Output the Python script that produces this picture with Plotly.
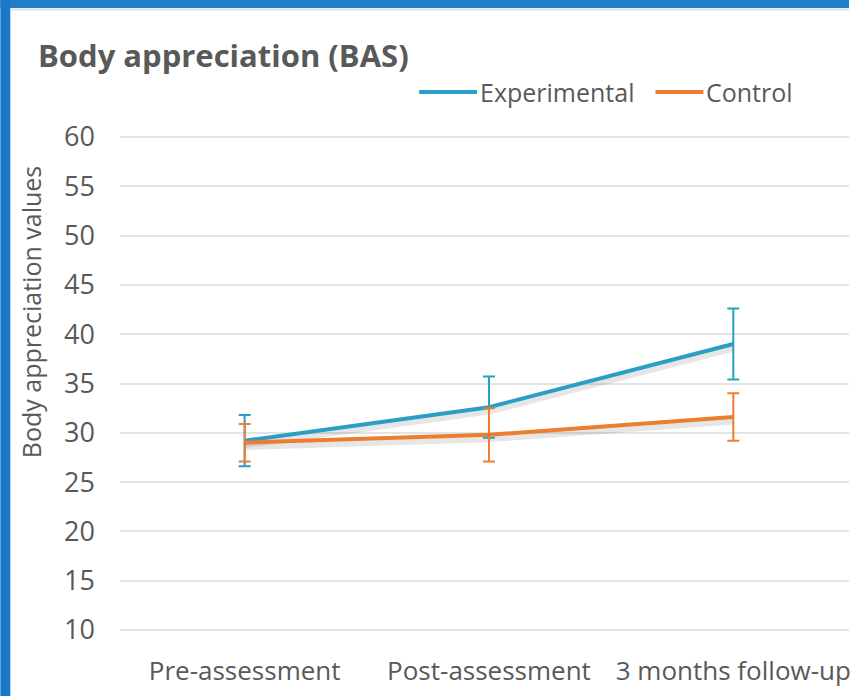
import plotly.graph_objects as go

# Time points and group means with their error margins
timepoints = ["Pre-assessment", "Post-assessment", "3 months follow-up"]
exp_mean = [29.2, 32.6, 39.0]
exp_err = [2.6, 3.1, 3.6]
ctrl_mean = [29.0, 29.8, 31.6]
ctrl_err = [1.9, 2.7, 2.4]
y_ticks = [10, 15, 20, 25, 30, 35, 40, 45, 50, 55, 60]
series_names = ["Experimental", "Control"]

BLUE = "#2A9FC4"
ORANGE = "#ED7D31"
TEXT = "#595959"
FONT = "Open Sans"

W, H = 851, 696
L, R, T, B = 120, 0, 117, 46
PW, PH = W - L - R, H - T - B


def px_x(px):
    return (px - L) / PW


def px_y(py):
    return (H - B - py) / PH


fig = go.Figure()

# soft drop shadows under the two lines
for mean in (exp_mean, ctrl_mean):
    fig.add_trace(go.Scatter(
        x=timepoints, y=[v - 0.4 for v in mean], mode="lines",
        line=dict(color="rgba(60,60,60,0.13)", width=7),
        showlegend=False, hoverinfo="skip",
    ))

fig.add_trace(go.Scatter(
    x=timepoints, y=exp_mean, mode="lines", name=series_names[0],
    line=dict(color=BLUE, width=4), showlegend=False,
    error_y=dict(type="data", array=exp_err, color=BLUE, thickness=2, width=6),
))
fig.add_trace(go.Scatter(
    x=timepoints, y=ctrl_mean, mode="lines", name=series_names[1],
    line=dict(color=ORANGE, width=4), showlegend=False,
    error_y=dict(type="data", array=ctrl_err, color=ORANGE, thickness=2, width=6),
))

# legend drawn as line samples followed by their labels
legend_items = [(series_names[0], BLUE, 420, 478), (series_names[1], ORANGE, 657, 705)]
legend_y = 92
shapes = []
annotations = []
for name, color, x0, x1 in legend_items:
    shapes.append(dict(type="line", xref="paper", yref="paper",
                       x0=px_x(x0), x1=px_x(x1), y0=px_y(legend_y), y1=px_y(legend_y),
                       line=dict(color=color, width=4)))
    annotations.append(dict(text=name, xref="paper", yref="paper",
                            x=px_x(x1 + 1), y=px_y(legend_y), xanchor="left",
                            yanchor="middle", showarrow=False,
                            font=dict(size=25, color=TEXT, family=FONT)))

annotations += [
    dict(text="<b>Body appreciation (BAS)</b>", xref="paper", yref="paper",
         x=px_x(36), y=px_y(55), xanchor="left", yanchor="middle",
         showarrow=False, font=dict(size=31, color=TEXT, family=FONT)),
    dict(text="Body appreciation values", xref="paper", yref="paper",
         x=px_x(31), y=px_y(312), xanchor="center", yanchor="middle",
         textangle=-90, showarrow=False,
         font=dict(size=25, color=TEXT, family=FONT)),
]

shapes += [
    dict(type="rect", xref="paper", yref="paper", x0=px_x(0), x1=px_x(W),
         y0=px_y(0), y1=px_y(8), fillcolor="#1F7FCB", line_width=0, layer="above"),
    dict(type="rect", xref="paper", yref="paper", x0=px_x(0), x1=px_x(10),
         y0=px_y(0), y1=px_y(H), fillcolor="#1A79C6", line_width=0, layer="above"),
    dict(type="line", xref="paper", yref="paper", x0=px_x(10), x1=px_x(W),
         y0=px_y(9.5), y1=px_y(9.5), line=dict(color="#E2E2E2", width=2)),
]

fig.update_layout(
    width=W, height=H,
    margin=dict(l=L, r=R, t=T, b=B),
    paper_bgcolor="white", plot_bgcolor="white",
    font=dict(family=FONT, color=TEXT),
    showlegend=False,
    xaxis=dict(
        range=[-0.5102, 2.4735], showgrid=False, zeroline=False, showline=False,
        tickfont=dict(size=26, color=TEXT, family=FONT), ticks="",
        ticklabelstandoff=3,
    ),
    yaxis=dict(
        range=[7.97, 62.03], tickvals=y_ticks, showgrid=True, gridcolor="#E4E4E4",
        gridwidth=1.5, zeroline=False, showline=False, ticks="",
        tickfont=dict(size=27, color=TEXT, family=FONT), ticklabelstandoff=24,
    ),
    annotations=annotations,
    shapes=shapes,
)

fig.write_html("out.html")
